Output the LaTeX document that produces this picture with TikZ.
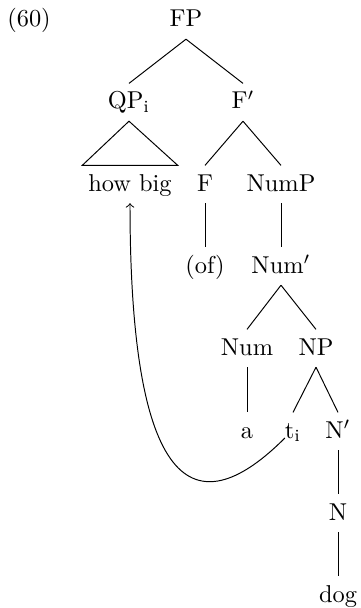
\documentclass[tikz,border=0pt]{standalone}
\usepackage{tikz}
\tikzset{
	cat/.style={anchor=base, inner xsep=0pt, inner ysep=3.5pt, text height=7pt, text depth=1.5pt, outer sep=0pt},
	branch/.style={line width=0.4pt},
	movement/.style={->, line width=0.4pt}
}

\begin{document}
\begin{tikzpicture}[x=0.41pt, y=-0.41pt]
			%%%%% START %%%%%
			
			\useasboundingbox (0, 0) rectangle (360, 608);
			
			\node[anchor=base] (exno) at (29, 27) {(60)};
			
			\node[cat] (fp) at (186, 27) {FP};
			\node[cat] (qp) at (129, 109) {QP\textsubscript{i}};
			\node[cat] (fbar) at (243, 109) {F$'$};
			\node[cat, inner xsep=2.5pt] (howbig) at (130, 191) {how big};
			\node[cat] (f) at (205, 191) {F};
			\node[cat] (nump) at (281, 191) {NumP};
			\node[cat] (of) at (205, 273) {(of)};
			\node[cat] (numbar) at (281, 273) {Num$'$};
			\node[cat] (num) at (247, 355) {Num};
			\node[cat] (np) at (316, 355) {NP};
			\node[cat] (a) at (247, 438) {a};
			\node[cat] (trace) at (293, 438) {t\textsubscript{i}};
			\node[cat] (nbar) at (338, 438) {N$'$};
			\node[cat] (n) at (338, 520) {N};
			\node[cat] (dog) at (338, 602) {dog};
			
			\draw[branch] (fp.south) -- (qp.north);
			\draw[branch] (fp.south) -- (fbar.north);
			\draw[branch] (qp.south) -- (howbig.north west) -- (howbig.north east) -- cycle;
			\draw[branch] (fbar.south) -- (f.north);
			\draw[branch] (fbar.south) -- (nump.north);
			\draw[branch] (f.south) -- (of.north);
			\draw[branch] (nump.south) -- (numbar.north);
			\draw[branch] (numbar.south) -- (num.north);
			\draw[branch] (numbar.south) -- (np.north);
			\draw[branch] (num.south) -- (a.north);
			\draw[branch] (np.south) -- (trace.north);
			\draw[branch] (np.south) -- (nbar.north);
			\draw[branch] (nbar.south) -- (n.north);
			\draw[branch] (n.south) -- (dog.north);
			
			\draw[movement] (trace.base west) .. controls +(-85, 85) and +(0, 300) .. (howbig.south);
			
			%%%%% END %%%%%
\end{tikzpicture}
\end{document}
